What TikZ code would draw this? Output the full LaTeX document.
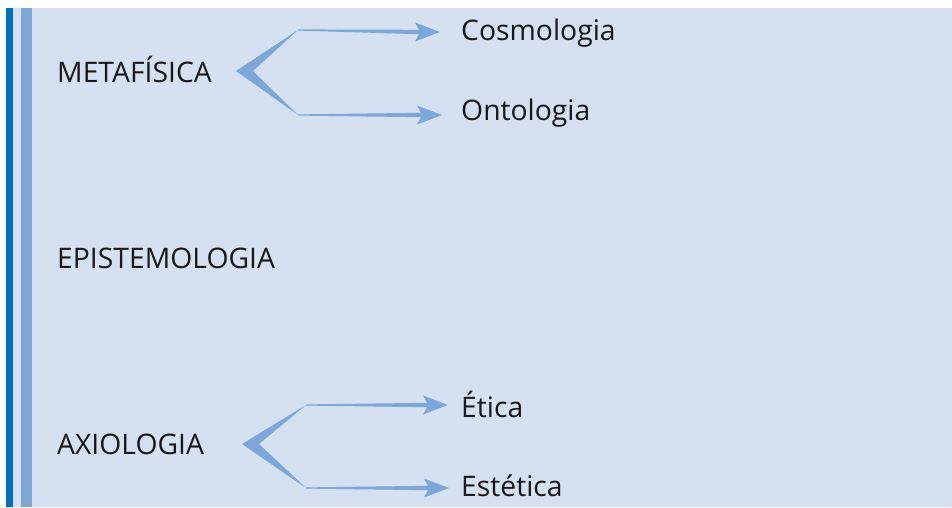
\documentclass[tikz,border=0pt]{standalone}
\usepackage{fontspec}
\setmainfont{Open Sans}
\usetikzlibrary{calc}

\definecolor{fundo}{HTML}{D5E0F1}
\definecolor{azulesc}{HTML}{0071BC}
\definecolor{azulmed}{HTML}{7DA7D9}
\definecolor{texto}{HTML}{1A1718}

\tikzset{
  termo/.style={anchor=base west, inner sep=0pt, text=texto,
                font=\fontsize{28.3}{32}\selectfont},
}

% tapered arrow: from #1 to tip #2
\newcommand{\seta}[2]{%
  \fill[azulmed] ($(#1)+(0,-0.6)$) -- ($(#2)+(-21,-2.2)$) -- ($(#2)+(-25,-9.5)$)
    -- (#2) -- ($(#2)+(-25,9.5)$) -- ($(#2)+(-21,2.2)$) -- ($(#1)+(0,0.6)$) -- cycle;}
% chevron: top #1, vertex #2, bottom #3
\newcommand{\garfo}[3]{%
  \fill[azulmed] (#1) -- (#2) -- (#3) -- ($(#2)+(17,0)$) -- cycle;}

\begin{document}
\begin{tikzpicture}[x=1pt, y=-1pt]
  \useasboundingbox (0,0) rectangle (952,507);
  \fill[fundo] (6,8) rectangle (952,507);
  \fill[azulesc] (6,8) rectangle (13,507);
  \fill[azulmed] (21,8) rectangle (32,507);

  \node[termo] (meta)   at (57,82)   {METAFÍSICA};
  \node[termo] (cosmo)  at (461,40)  {Cosmologia};
  \node[termo] (onto)   at (461,120) {Ontologia};
  \node[termo] (episte) at (57,268)  {EPISTEMOLOGIA};
  \node[termo] (axio)   at (57,454)  {AXIOLOGIA};
  \node[termo] (etica)  at (461,417) {Ética};
  \node[termo] (estet)  at (461,496) {Estética};

  % forks
  \coordinate (meta-v) at (236,71);
  \coordinate (meta-a) at (298,30);
  \coordinate (meta-b) at (298,115);
  \coordinate (axio-v) at (242,444);
  \coordinate (axio-a) at (306,405);
  \coordinate (axio-b) at (306,488);

  % arrow tips
  \coordinate (cosmo-t) at ($(cosmo.base west)+(-21,-8)$);
  \coordinate (onto-t)  at ($(onto.base west)+(-19,-5)$);
  \coordinate (etica-t) at ($(etica.base west)+(-13,-12)$);
  \coordinate (estet-t) at ($(estet.base west)+(-12,-8)$);

  \garfo{meta-a}{meta-v}{meta-b}
  \garfo{axio-a}{axio-v}{axio-b}
  \seta{meta-a}{cosmo-t}
  \seta{meta-b}{onto-t}
  \seta{axio-a}{etica-t}
  \seta{axio-b}{estet-t}
\end{tikzpicture}
\end{document}
